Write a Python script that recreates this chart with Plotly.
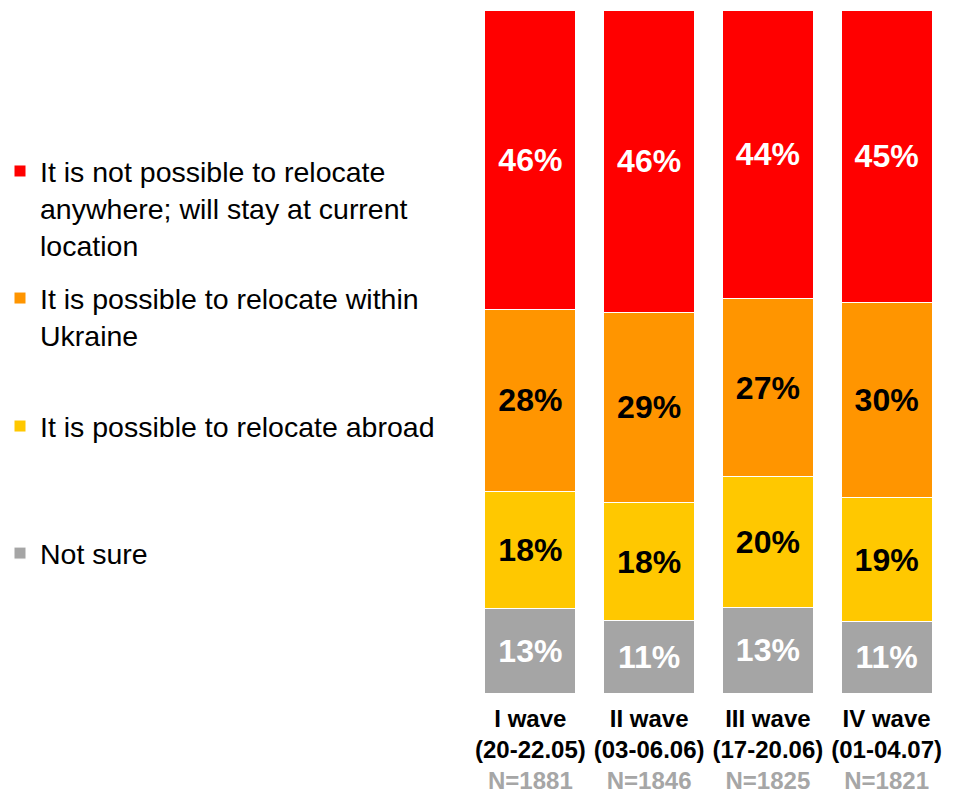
import plotly.graph_objects as go

# Survey waves (x categories)
waves = ["I wave", "II wave", "III wave", "IV wave"]
periods = ["(20-22.05)", "(03-06.06)", "(17-20.06)", "(01-04.07)"]
sample_sizes = ["N=1881", "N=1846", "N=1825", "N=1821"]

# Answer shares, % (stacked bottom to top)
not_sure = [13, 11, 13, 11]
abroad = [18, 18, 20, 19]
within_ukraine = [28, 29, 27, 30]
stay = [46, 46, 44, 45]

series = [
    ("Not sure", not_sure, "#A5A5A5", "white", "legend4"),
    ("It is possible to relocate abroad", abroad, "#FFC800", "black", "legend3"),
    ("It is possible to relocate within<br>Ukraine", within_ukraine, "#FF9500", "black", "legend2"),
    ("It is not possible to relocate<br>anywhere; will stay at current<br>location", stay, "#FF0000", "white", "legend"),
]

tick_text = [
    f"<b>{w}<br>{p}<br><span style='color:#A6A6A6'>{n}</span></b>"
    for w, p, n in zip(waves, periods, sample_sizes)
]

FONT = "Arial, Liberation Sans, sans-serif"

fig = go.Figure()
for name, vals, color, txtcolor, leg in series:
    fig.add_trace(go.Bar(
        x=waves,
        y=vals,
        name=name,
        legend=leg,
        marker=dict(color=color, line=dict(color="white", width=1)),
        text=[f"{v}%" for v in vals],
        textposition="inside",
        insidetextanchor="middle",
        textangle=0,
        constraintext="none",
        textfont=dict(family=FONT, size=32, color=txtcolor, weight="bold"),
        hoverinfo="skip",
    ))

legend_style = dict(
    xref="container", yref="container", x=0.0, xanchor="left", yanchor="top",
    valign="top", bgcolor="rgba(0,0,0,0)",
    font=dict(family=FONT, size=28.5, color="black"),
)
legend_tops = {"legend": 0.8164, "legend2": 0.6566, "legend3": 0.4956, "legend4": 0.3358}

fig.update_layout(
    width=964, height=795,
    barmode="stack", barnorm="percent", bargap=0.233,
    plot_bgcolor="white", paper_bgcolor="white",
    margin=dict(l=471, r=18, t=10, b=102, autoexpand=False),
    showlegend=True,
    font=dict(family=FONT),
    legend=dict(y=legend_tops["legend"], **legend_style),
    legend2=dict(y=legend_tops["legend2"], **legend_style),
    legend3=dict(y=legend_tops["legend3"], **legend_style),
    legend4=dict(y=legend_tops["legend4"], **legend_style),
    xaxis=dict(
        tickmode="array", tickvals=waves, ticktext=tick_text,
        tickfont=dict(family=FONT, size=24, color="black"),
        tickangle=0, automargin=False,
        ticklabelstandoff=9,
        showline=False, ticks="", showgrid=False, range=[-0.5, 3.5],
    ),
    yaxis=dict(visible=False, range=[0, 100], showgrid=False, zeroline=False),
)

fig.write_html("out.html")
